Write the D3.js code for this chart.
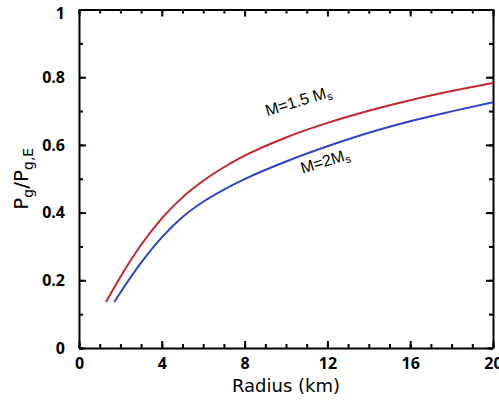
<!DOCTYPE html>
<html>
<head>
<meta charset="utf-8">
<script src="https://cdn.jsdelivr.net/npm/d3@7"></script>
<style>
  body { margin: 0; background: #fff; }
  .axis path, .axis line { stroke: #000; stroke-width: 2; }
  .axis text { font-family: "Open Sans", sans-serif; font-weight: bold; font-size: 16px; fill: #000; }
  .minor path { stroke: none; }
  .line { fill: none; stroke-width: 2; }
</style>
</head>
<body>
<script>
// Data
// =================================
var xTicks = [0, 4, 8, 12, 16, 20];
var yTicks = [0, 0.2, 0.4, 0.6, 0.8, 1];
var yTickLabels = ["0", "0.2", "0.4", "0.6", "0.8", "1"];

// M = 1.5 Ms (red)
var radius15 = [1.3, 2, 3, 4, 5, 6, 7, 8, 10, 12, 14, 16, 18, 20];
var ratio15 = [0.136, 0.21, 0.305, 0.383, 0.445, 0.494, 0.534, 0.568, 0.622, 0.665, 0.701, 0.732, 0.759, 0.783];

// M = 2 Ms (blue)
var radius2 = [1.7, 2, 3, 4, 5, 6, 7, 8, 10, 12, 14, 16, 18, 20];
var ratio2 = [0.136, 0.164, 0.252, 0.327, 0.387, 0.432, 0.468, 0.499, 0.551, 0.596, 0.636, 0.67, 0.699, 0.726];

// Step 1: Set up our chart
// =================================
var svgWidth = 499;
var svgHeight = 401;

var margin = { top: 9.5, right: 6, bottom: 53, left: 79 };

var width = svgWidth - margin.left - margin.right;
var height = svgHeight - margin.top - margin.bottom;

// Step 2: SVG wrapper
// =================================
var svg = d3.select("body")
  .append("svg")
  .attr("width", svgWidth)
  .attr("height", svgHeight);

var chartGroup = svg.append("g")
  .attr("transform", `translate(${margin.left}, ${margin.top})`);

// Step 3: Scales
// =================================
var xLinearScale = d3.scaleLinear().domain([0, 20]).range([0, width]);
var yLinearScale = d3.scaleLinear().domain([0, 1]).range([height, 0]);

var xMinor = d3.range(0, 21, 1);
var yMinor = d3.range(0, 1.01, 0.1);

// Step 4: Axes, ticks inward on all four sides
// =================================
// minor ticks first
chartGroup.append("g").attr("class", "axis minor")
  .attr("transform", `translate(0, ${height})`)
  .call(d3.axisBottom(xLinearScale).tickValues(xMinor).tickSize(-4).tickFormat(""));
chartGroup.append("g").attr("class", "axis minor")
  .call(d3.axisTop(xLinearScale).tickValues(xMinor).tickSize(-4).tickFormat(""));
chartGroup.append("g").attr("class", "axis minor")
  .call(d3.axisLeft(yLinearScale).tickValues(yMinor).tickSize(-4).tickFormat(""));
chartGroup.append("g").attr("class", "axis minor")
  .attr("transform", `translate(${width}, 0)`)
  .call(d3.axisRight(yLinearScale).tickValues(yMinor).tickSize(-4).tickFormat(""));

// major ticks with labels
var bottomAxis = d3.axisBottom(xLinearScale).tickValues(xTicks).tickSize(-7).tickPadding(10).tickSizeOuter(0);
var leftAxis = d3.axisLeft(yLinearScale).tickValues(yTicks).tickSize(-7).tickPadding(14).tickSizeOuter(0)
  .tickFormat((d, i) => yTickLabels[i]);

chartGroup.append("g").attr("class", "axis")
  .attr("transform", `translate(0, ${height})`)
  .call(bottomAxis);
var yAxisGroup = chartGroup.append("g").attr("class", "axis")
  .call(leftAxis);
chartGroup.append("g").attr("class", "axis")
  .call(d3.axisTop(xLinearScale).tickValues(xTicks).tickSize(-7).tickSizeOuter(0).tickFormat(""));
chartGroup.append("g").attr("class", "axis")
  .attr("transform", `translate(${width}, 0)`)
  .call(d3.axisRight(yLinearScale).tickValues(yTicks).tickSize(-7).tickSizeOuter(0).tickFormat(""));

chartGroup.selectAll(".axis .tick text").attr("font-family", null);

// the top "1" sits a little lower so it is not clipped
yAxisGroup.selectAll(".tick text").filter(d => d === 1).attr("dy", "0.55em");

// Step 5: Lines
// =================================
var line = d3.line()
  .x(d => xLinearScale(d[0]))
  .y(d => yLinearScale(d[1]))
  .curve(d3.curveMonotoneX);

chartGroup.append("path")
  .attr("d", line(d3.zip(radius15, ratio15)))
  .attr("class", "line")
  .attr("stroke", "#c1272d");

chartGroup.append("path")
  .attr("d", line(d3.zip(radius2, ratio2)))
  .attr("class", "line")
  .attr("stroke", "#2b46c8");

// Step 6: Curve labels
// =================================
function curveLabel(r, v, main, sub) {
  var t = chartGroup.append("text")
    .attr("transform", `translate(${xLinearScale(r)}, ${yLinearScale(v)}) rotate(-17)`)
    .attr("font-family", "'Liberation Sans', Arial, sans-serif")
    .attr("font-size", 16)
    .attr("fill", "#000");
  t.append("tspan").text(main);
  t.append("tspan").attr("font-size", 11).attr("dy", 3).text(sub);
}
curveLabel(9.1, 0.685, "M=1.5 M", "s");
curveLabel(10.8, 0.515, "M=2M", "s");

// Step 7: Axis titles
// =================================
svg.append("text")
  .attr("x", margin.left + width / 2)
  .attr("y", 392)
  .attr("text-anchor", "middle")
  .attr("font-family", "'DejaVu Sans', sans-serif")
  .attr("font-size", 18)
  .text("Radius (km)");

var yTitle = svg.append("text")
  .attr("transform", `translate(28, ${margin.top + height / 2}) rotate(-90)`)
  .attr("text-anchor", "middle")
  .attr("font-family", "'DejaVu Sans', sans-serif")
  .attr("font-size", 20);
yTitle.append("tspan").text("P");
yTitle.append("tspan").attr("font-size", 14).attr("dy", 5).text("g");
yTitle.append("tspan").attr("dy", -5).text("/P");
yTitle.append("tspan").attr("font-size", 14).attr("dy", 5).text("g,E");
</script>
</body>
</html>
